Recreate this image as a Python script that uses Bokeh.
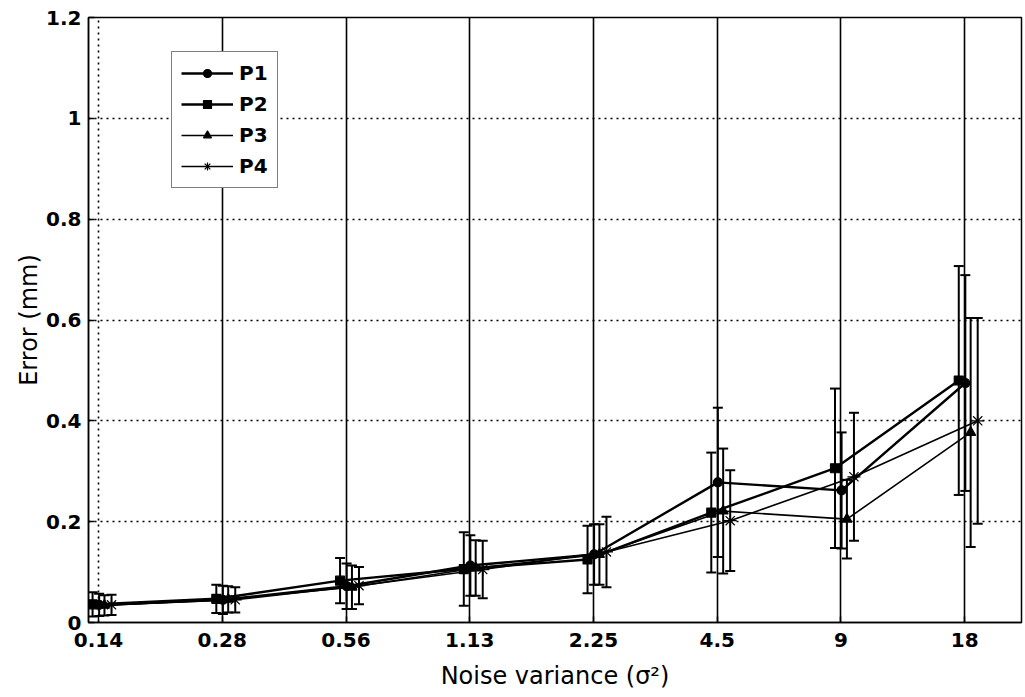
from bokeh.plotting import figure
from bokeh.models import (ColumnDataSource, Range1d, FixedTicker, Grid, Whisker, TeeHead,
                          Legend, LegendItem)
from bokeh.embed import file_html
from bokeh.resources import INLINE

# ---- data ----
x_labels = ["0.14", "0.28", "0.56", "1.13", "2.25", "4.5", "9", "18"]
series_names = ["P1", "P2", "P3", "P4"]
p1_mean = [0.035, 0.045, 0.072, 0.113, 0.135, 0.278, 0.262, 0.475]
p1_err = [0.022, 0.028, 0.045, 0.060, 0.060, 0.148, 0.115, 0.214]
p2_mean = [0.036, 0.047, 0.083, 0.106, 0.125, 0.218, 0.306, 0.480]
p2_err = [0.024, 0.028, 0.045, 0.073, 0.067, 0.119, 0.158, 0.227]
p3_mean = [0.034, 0.046, 0.070, 0.108, 0.135, 0.221, 0.205, 0.377]
p3_err = [0.020, 0.026, 0.043, 0.055, 0.060, 0.124, 0.078, 0.227]
p4_mean = [0.035, 0.045, 0.073, 0.105, 0.140, 0.202, 0.289, 0.400]
p4_err = [0.020, 0.025, 0.037, 0.057, 0.070, 0.100, 0.127, 0.204]
y_ticks = [0, 0.2, 0.4, 0.6, 0.8, 1.0, 1.2]
y_tick_labels = ["0", "0.2", "0.4", "0.6", "0.8", "1", "1.2"]

# ---- styling ----
offsets = {"P1": 0.005, "P2": -0.048, "P3": 0.048, "P4": 0.105}
markers = {"P1": "circle", "P2": "square", "P3": "triangle", "P4": "asterisk"}
msize = {"P1": 9, "P2": 9, "P3": 10, "P4": 13}
lwidth = {"P1": 2.4, "P2": 2.4, "P3": 1.6, "P4": 1.6}
means = {"P1": p1_mean, "P2": p2_mean, "P3": p3_mean, "P4": p4_mean}
errs = {"P1": p1_err, "P2": p2_err, "P3": p3_err, "P4": p4_err}

idx = list(range(len(x_labels)))

p = figure(width=1024, height=694, output_backend="svg", toolbar_location=None,
           x_range=Range1d(-0.081, 7.459), y_range=Range1d(0, 1.2),
           min_border_left=88, min_border_top=17, min_border_right=3, min_border_bottom=72)
p.background_fill_color = "white"
p.border_fill_color = "white"
p.outline_line_color = "black"
p.outline_line_width = 1.5

FONT = "DejaVu Sans"
p.xaxis.ticker = FixedTicker(ticks=idx)
p.xaxis.major_label_overrides = {i: l for i, l in zip(idx, x_labels)}
p.yaxis.ticker = FixedTicker(ticks=y_ticks)
p.yaxis.major_label_overrides = {t: l for t, l in zip(y_ticks, y_tick_labels)}
for ax in (p.xaxis, p.yaxis):
    ax.major_label_text_font = FONT
    ax.major_label_text_font_style = "bold"
    ax.major_label_text_font_size = "20px"
    ax.major_label_text_color = "black"
    ax.axis_label_text_font = FONT
    ax.axis_label_text_font_style = "normal"
    ax.axis_label_text_font_size = "24px"
    ax.axis_label_text_color = "black"
    ax.axis_line_color = "black"
    ax.axis_line_width = 1.5
    ax.major_tick_in = 6
    ax.major_tick_out = 0
    ax.major_tick_line_color = "black"
    ax.major_tick_line_width = 1.5
    ax.minor_tick_line_color = None
p.xaxis.axis_label = "Noise variance (σ²)"
p.yaxis.axis_label = "Error (mm)"
p.xaxis.major_label_standoff = 10
p.yaxis.major_label_standoff = 7
p.xaxis.axis_label_standoff = 12
p.yaxis.axis_label_standoff = 0

# grids
p.xgrid.visible = False
p.ygrid.ticker = FixedTicker(ticks=y_ticks[1:-1])
p.ygrid.grid_line_color = "black"
p.ygrid.grid_line_dash = "2 4"
p.ygrid.grid_line_width = 1.4
p.add_layout(Grid(dimension=0, ticker=FixedTicker(ticks=idx[1:]),
                  grid_line_color="black", grid_line_width=1.6))
p.add_layout(Grid(dimension=0, ticker=FixedTicker(ticks=idx[:1]),
                  grid_line_color="black", grid_line_width=1.6, grid_line_dash="2 4"))

items = []
for name in series_names:
    xs = [i + offsets[name] for i in idx]
    m = means[name]
    e = errs[name]
    src = ColumnDataSource(dict(x=xs, y=m, lo=[a - b for a, b in zip(m, e)],
                                hi=[a + b for a, b in zip(m, e)]))
    w = Whisker(base="x", upper="hi", lower="lo", source=src, dimension="height",
                line_color="black", line_width=2,
                upper_head=TeeHead(size=10, line_color="black", line_width=2),
                lower_head=TeeHead(size=10, line_color="black", line_width=2))
    p.add_layout(w)
    r1 = p.line("x", "y", source=src, line_color="black", line_width=lwidth[name])
    r2 = p.scatter("x", "y", source=src, marker=markers[name], size=msize[name],
                   fill_color="black", line_color="black", line_width=1.2)
    items.append(LegendItem(label=name, renderers=[r1, r2]))

legend = Legend(items=items, location=(83, 434), orientation="vertical")
legend.label_text_font = FONT
legend.label_text_font_style = "bold"
legend.label_text_font_size = "20px"
legend.label_text_color = "black"
legend.glyph_width = 52
legend.glyph_height = 20
legend.label_height = 20
legend.label_standoff = 6
legend.spacing = 7
legend.padding = 9
legend.margin = 0
legend.border_line_color = "black"
legend.border_line_width = 1.5
legend.background_fill_color = "white"
legend.background_fill_alpha = 1.0
p.add_layout(legend)

open("out.html", "w").write(file_html(p, INLINE))
